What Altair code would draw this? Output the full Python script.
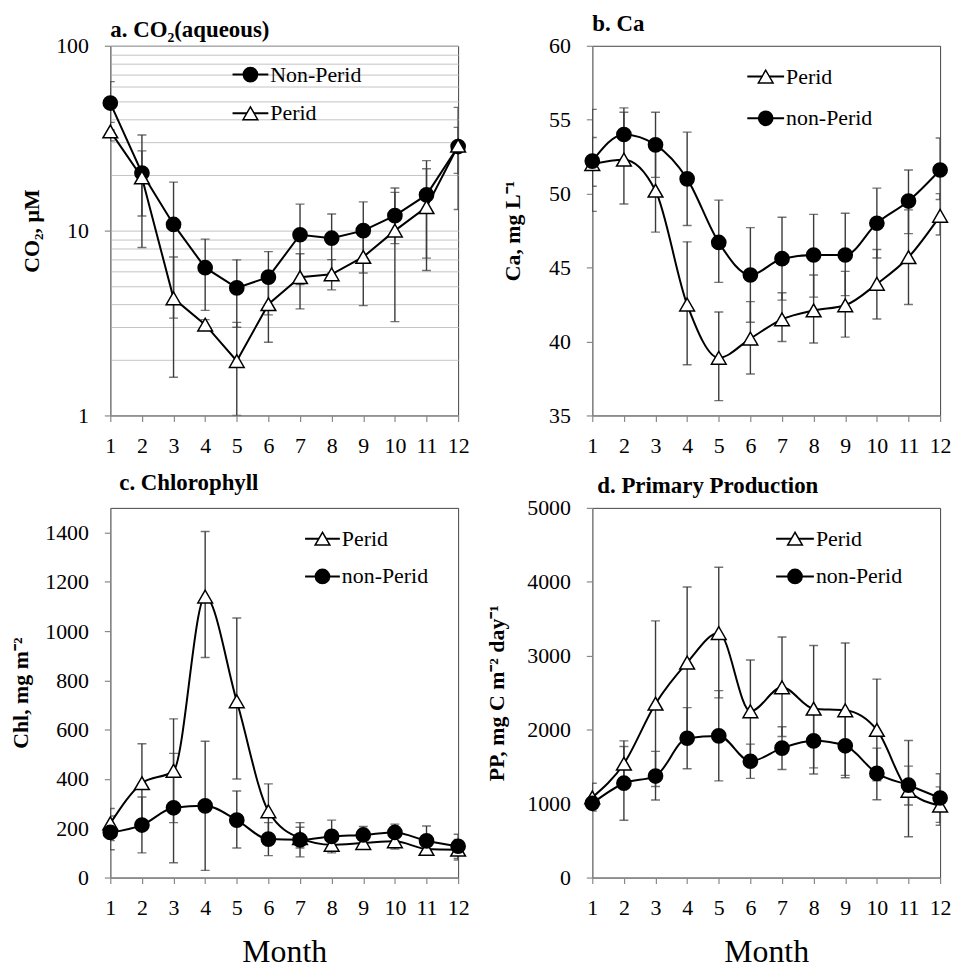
import altair as alt
import pandas as pd

FONT = "Liberation Serif"
months = list(range(1, 13))

# ---- a. CO2 (aqueous), uM (log scale)
co2_non = [49, 20.5, 10.8, 6.3, 4.9, 5.6, 9.5, 9.1, 10.0, 12.05, 15.6, 28.5]
co2_non_lo = [35, 8.1, 3.36, 3.7, 3.0, 3.5, 5.1, 5.9, 5.9, 8.5, 7.1, 13.0]
co2_non_hi = [64, 32.9, 18.3, 9.0, 6.95, 7.7, 13.9, 12.3, 14.3, 16.1, 23.9, 46.4]
co2_per = [34.4, 19.4, 4.3, 3.1, 1.97, 4.0, 5.6, 5.8, 7.2, 10.0, 13.4, 28.8]
co2_per_lo = [30.6, 12.0, 1.61, 2.9, 1.0, 2.49, 3.77, 4.78, 3.93, 3.22, 6.08, 20.4]
co2_per_hi = [38.5, 27.0, 7.2, 3.3, 3.19, 5.5, 7.5, 6.97, 10.5, 17.0, 21.6, 36.2]
co2_grid = [1, 2, 3, 4, 5, 6, 7, 8, 9, 10, 20, 30, 40, 50, 60, 70, 80, 90, 100]

# ---- b. Ca, mg/L
ca_non = [52.2, 54.0, 53.3, 51.0, 46.7, 44.5, 45.6, 45.85, 45.85, 48.0, 49.5, 51.6]
ca_non_lo = [48.8, 52.2, 51.1, 47.85, 44.0, 41.3, 42.8, 43.0, 43.1, 45.65, 47.3, 49.6]
ca_non_hi = [55.7, 55.8, 55.5, 54.16, 49.56, 47.7, 48.4, 48.6, 48.67, 50.37, 51.6, 53.76]
ca_per = [52.0, 52.3, 50.2, 42.5, 38.9, 40.2, 41.5, 42.1, 42.45, 43.9, 45.7, 48.5]
ca_per_lo = [50.5, 49.3, 47.4, 38.43, 36.0, 37.8, 40.0, 39.9, 40.3, 41.52, 42.5, 47.2]
ca_per_hi = [53.8, 55.5, 53.0, 46.74, 42.0, 42.7, 43.3, 44.5, 44.74, 46.22, 48.9, 50.0]

# ---- c. Chlorophyll, mg/m2
chl_non = [183, 213, 283, 291, 233, 156, 153, 167, 173, 183, 149, 127]
chl_non_lo = [113, 100, 60, 29, 120, 89, 84, 100, 140, 150, 90, 78]
chl_non_hi = [250, 327, 504, 553, 351, 223, 223, 233, 207, 217, 209, 176]
chl_per = [220, 383, 433, 1140, 715, 269, 160, 133, 140, 147, 116, 113]
chl_per_lo = [150, 223, 223, 893, 400, 158, 120, 107, 120, 116, 100, 71]
chl_per_hi = [280, 543, 644, 1404, 1053, 380, 204, 160, 165, 178, 130, 155]

# ---- d. Primary production, mg C/m2/day
pp_non = [1004, 1276, 1373, 1884, 1916, 1573, 1751, 1849, 1782, 1409, 1249, 1076]
pp_non_lo = [950, 776, 1049, 1471, 1307, 1342, 1462, 1484, 1382, 1053, 982, 746]
pp_non_hi = [1060, 1773, 1707, 2298, 2529, 1804, 2040, 2214, 2180, 1751, 1507, 1404]
pp_per = [1084, 1540, 2351, 2907, 3307, 2249, 2573, 2284, 2262, 1996, 1173, 973]
pp_per_lo = [900, 1210, 1231, 1885, 2430, 1556, 1907, 1400, 1350, 1310, 551, 707]
pp_per_hi = [1276, 1849, 3471, 3929, 4196, 2942, 3253, 3138, 3173, 2684, 1853, 1227]

W, H = 350, 372


def frame(vals, lo, hi):
    return pd.DataFrame({"month": months, "value": vals, "lo": lo, "hi": hi})


def series_layers(df, kind, xenc, yscale, interp):
    base = alt.Chart(df)
    rule = base.mark_rule(color="#3a3a3a", strokeWidth=1.4, clip=True).encode(
        x=xenc, y=alt.Y("lo:Q", scale=yscale), y2="hi:Q")
    tlo = base.mark_tick(orient="horizontal", size=9, thickness=1.4, color="#3a3a3a", clip=True).encode(
        x=xenc, y=alt.Y("lo:Q", scale=yscale))
    thi = base.mark_tick(orient="horizontal", size=9, thickness=1.4, color="#3a3a3a", clip=True).encode(
        x=xenc, y=alt.Y("hi:Q", scale=yscale))
    line = base.mark_line(color="black", strokeWidth=2, interpolate=interp).encode(
        x=xenc, y=alt.Y("value:Q", scale=yscale))
    if kind == "circle":
        pts = base.mark_point(shape="circle", filled=True, fill="black", stroke="black",
                              size=190, opacity=1).encode(x=xenc, y=alt.Y("value:Q", scale=yscale))
    else:
        pts = base.mark_point(shape="triangle-up", filled=True, fill="white", stroke="black",
                              strokeWidth=1.5, size=220, opacity=1).encode(
            x=xenc, y=alt.Y("value:Q", scale=yscale))
    return [rule, tlo, thi], [line, pts]


def legend_row(label, kind, x0, x1, y):
    base = alt.Chart(pd.DataFrame({"label": [label]}))
    ln = base.mark_rule(color="black", strokeWidth=2).encode(
        x=alt.value(x0), x2=alt.value(x1), y=alt.value(y))
    if kind == "circle":
        pt = base.mark_point(shape="circle", filled=True, fill="black", stroke="black",
                             size=190, opacity=1).encode(x=alt.value((x0 + x1) / 2), y=alt.value(y))
    else:
        pt = base.mark_point(shape="triangle-up", filled=True, fill="white", stroke="black",
                             strokeWidth=1.5, size=220, opacity=1).encode(
            x=alt.value((x0 + x1) / 2), y=alt.value(y))
    tx = base.mark_text(align="left", baseline="middle", font=FONT, fontSize=22,
                        color="black").encode(x=alt.value(x1 + 2), y=alt.value(y), text="label:N")
    return [ln, pt, tx]


def panel(title, ytitle, yscale, yaxis, non_df, per_df, non_label, legend_first,
          lx0, lx1, ly, interp, perid_on_top, xtitle, title_offset, title_dx):
    xaxis = alt.Axis(values=months, title=xtitle, titleFontSize=32, titleFontWeight="normal",
                     titlePadding=18, labelPadding=14, tickSize=6, grid=False,
                     labelOverlap=False, labelFlush=False, labelFontSize=22)
    xenc = alt.X("month:Q", scale=alt.Scale(domain=[1, 12], nice=False, zero=False), axis=xaxis)
    holder = alt.Chart(non_df).mark_point(opacity=0).encode(
        x=xenc, y=alt.Y("value:Q", scale=yscale, axis=yaxis, title=ytitle))
    nb, nl = series_layers(non_df, "circle", xenc, yscale, interp)
    pb, pl = series_layers(per_df, "triangle", xenc, yscale, interp)
    if perid_on_top:
        layers = [holder] + nb + pb + nl + pl
    else:
        layers = [holder] + nb + pb + pl + nl
    if legend_first == "non":
        rows = [(non_label, "circle"), ("Perid", "triangle")]
    else:
        rows = [("Perid", "triangle"), (non_label, "circle")]
    for i, (lab, kind) in enumerate(rows):
        layers += legend_row(lab, kind, lx0, lx1, ly[i])
    return alt.layer(*layers).properties(
        width=W, height=H,
        title=alt.TitleParams(text=title, anchor="start", frame="group", offset=title_offset, dx=title_dx))


log_axis = alt.Axis(
    values=co2_grid, grid=True, gridColor="#c4c4c4", gridWidth=1,
    labelExpr="(datum.value == 1 || datum.value == 10 || datum.value == 100) ? datum.label : ''",
    tickOpacity={"condition": {"test": "datum.value == 1 || datum.value == 10 || datum.value == 100",
                               "value": 1}, "value": 0},
    titleFontWeight="bold", titlePadding=12, labelPadding=16, tickSize=6, format="d")

pa = panel("a. CO₂(aqueous)", "CO₂, µM",
           alt.Scale(type="log", domain=[1, 100], nice=False),
           log_axis,
           frame(co2_non, co2_non_lo, co2_non_hi), frame(co2_per, co2_per_lo, co2_per_hi),
           "Non-Perid", "non", 123, 159, [29, 68], "linear", True, "", -7, 0)

pb_ = panel("b. Ca", "Ca, mg L⁻¹",
            alt.Scale(domain=[35, 60], nice=False, zero=False),
            alt.Axis(values=[35, 40, 45, 50, 55, 60], titleFontWeight="bold", titlePadding=24,
                     labelPadding=16, tickSize=6, grid=False, format="d"),
            frame(ca_non, ca_non_lo, ca_non_hi), frame(ca_per, ca_per_lo, ca_per_hi),
            "non-Perid", "per", 156, 193, [31, 73], "monotone", False, "", -1, 0)

pc = panel("c. Chlorophyll", "Chl, mg m⁻²",
           alt.Scale(domain=[0, 1500], nice=False, zero=True),
           alt.Axis(values=[0, 200, 400, 600, 800, 1000, 1200, 1400], titleFontWeight="bold",
                    titlePadding=12, labelPadding=16, tickSize=6, grid=False, format="d"),
           frame(chl_non, chl_non_lo, chl_non_hi), frame(chl_per, chl_per_lo, chl_per_hi),
           "non-Perid", "per", 196, 231, [31, 69], "monotone", False, "Month", 13, 9)

pd_ = panel("d. Primary Production", "PP, mg C m⁻² day⁻¹",
            alt.Scale(domain=[0, 5000], nice=False, zero=True),
            alt.Axis(values=[0, 1000, 2000, 3000, 4000, 5000], titleFontWeight="bold",
                     titlePadding=18, labelPadding=16, tickSize=6, grid=False, format="d"),
            frame(pp_non, pp_non_lo, pp_non_hi), frame(pp_per, pp_per_lo, pp_per_hi),
            "non-Perid", "per", 185, 223, [31, 69], "monotone", False, "Month", -1, 5)

chart = alt.concat(
    pa, pb_, pc, pd_, columns=2, bounds="flush",
    spacing=alt.RowColnumber(row=93, column=135)
).properties(
    background="white", padding={"left": 9, "top": 9, "right": 5, "bottom": 5}
).configure_view(
    stroke="#444", strokeWidth=1
).configure_axis(
    labelFont=FONT, titleFont=FONT, labelFontSize=22, titleFontSize=22,
    labelColor="black", titleColor="black", domainColor="#888", tickColor="#888",
    domainWidth=1.2, tickWidth=1.2, grid=False
).configure_title(
    font=FONT, fontSize=23, fontWeight="bold", color="black"
)

chart.save("out.html", embed_options={"renderer": "svg", "actions": False})
